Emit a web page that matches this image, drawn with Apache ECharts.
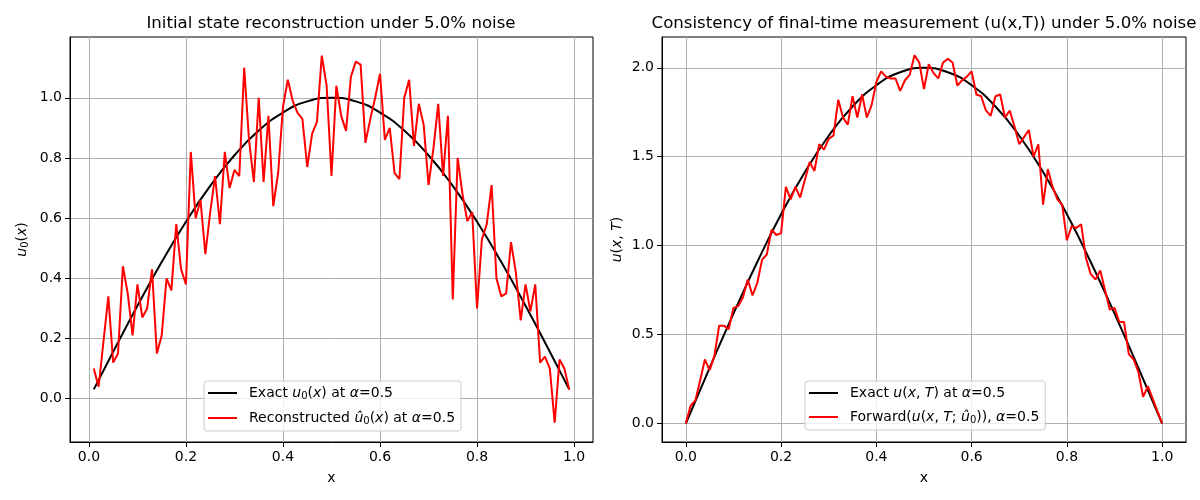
<!DOCTYPE html>
<html>
<head>
<meta charset="utf-8">
<script src="https://cdn.jsdelivr.net/npm/echarts@6/dist/echarts.min.js"></script>
<style>
  html, body { margin: 0; padding: 0; background: #fff; }
  #chart { width: 1200px; height: 500px; }
</style>
</head>
<body>
<div id="chart"></div>
<script>
// tick labels
const xTicks = [0, 0.2, 0.4, 0.6, 0.8, 1.0];
const leftYTicks = [0, 0.2, 0.4, 0.6, 0.8, 1.0];
const rightYTicks = [0, 0.5, 1.0, 1.5, 2.0];

// left panel: exact u0(x) (read at a few x), reconstruction at x = 0.01..0.99
const exactU0X = [0.01, 0.05, 0.10, 0.15, 0.20, 0.25, 0.30, 0.35, 0.40, 0.45, 0.50,
  0.55, 0.60, 0.65, 0.70, 0.75, 0.80, 0.85, 0.90, 0.95, 0.99];
const exactU0 = [0.031, 0.156, 0.309, 0.454, 0.588, 0.707, 0.809, 0.891, 0.951, 0.988, 1.000,
  0.988, 0.951, 0.891, 0.809, 0.707, 0.588, 0.454, 0.309, 0.156, 0.031];
const reconU0 = [
  0.10, 0.04, 0.19, 0.34, 0.12, 0.15, 0.44, 0.35, 0.21, 0.38,
  0.27, 0.30, 0.43, 0.15, 0.21, 0.40, 0.36, 0.58, 0.43, 0.38,
  0.82, 0.60, 0.66, 0.48, 0.62, 0.74, 0.58, 0.82, 0.70, 0.76,
  0.74, 1.10, 0.86, 0.72, 1.00, 0.72, 0.94, 0.64, 0.75, 0.97,
  1.06, 0.99, 0.95, 0.93, 0.77, 0.88, 0.92, 1.14, 1.04, 0.74,
  1.04, 0.94, 0.89, 1.07, 1.12, 1.11, 0.85, 0.93, 1.00, 1.08,
  0.86, 0.90, 0.75, 0.73, 1.00, 1.06, 0.84, 0.98, 0.91, 0.71,
  0.83, 0.98, 0.74, 0.94, 0.33, 0.80, 0.68, 0.59, 0.62, 0.30,
  0.53, 0.58, 0.71, 0.40, 0.34, 0.35, 0.52, 0.42, 0.26, 0.38,
  0.29, 0.38, 0.12, 0.14, 0.10, -0.08, 0.13, 0.10, 0.03
];

// right panel: exact u(x,T), forward solution at x = 0.00..1.00
const exactUTX = [0.00, 0.05, 0.10, 0.15, 0.20, 0.25, 0.30, 0.35, 0.40, 0.45, 0.50,
  0.55, 0.60, 0.65, 0.70, 0.75, 0.80, 0.85, 0.90, 0.95, 1.00];
const exactUT = [0, 0.313, 0.618, 0.908, 1.176, 1.414, 1.618, 1.782, 1.902, 1.975, 2.000,
  1.975, 1.902, 1.782, 1.618, 1.414, 1.176, 0.908, 0.618, 0.313, 0];
const forwardUT = [
  0.00, 0.10, 0.13, 0.24, 0.36, 0.30, 0.38, 0.55, 0.55, 0.53,
  0.65, 0.66, 0.71, 0.81, 0.72, 0.79, 0.92, 0.95, 1.09, 1.06,
  1.07, 1.33, 1.26, 1.33, 1.27, 1.37, 1.47, 1.42, 1.57, 1.54,
  1.60, 1.62, 1.82, 1.72, 1.68, 1.84, 1.72, 1.85, 1.72, 1.79,
  1.92, 1.98, 1.95, 1.94, 1.94, 1.87, 1.93, 1.96, 2.07, 2.03,
  1.88, 2.02, 1.97, 1.94, 2.03, 2.05, 2.03, 1.90, 1.93, 1.95,
  1.98, 1.85, 1.84, 1.76, 1.73, 1.84, 1.85, 1.72, 1.76, 1.67,
  1.57, 1.61, 1.65, 1.50, 1.57, 1.23, 1.43, 1.33, 1.26, 1.23,
  1.03, 1.11, 1.10, 1.12, 0.93, 0.84, 0.81, 0.86, 0.75, 0.64,
  0.65, 0.57, 0.57, 0.39, 0.36, 0.29, 0.15, 0.21, 0.14, 0.07,
  0.00
];

const FONT = 'DejaVu Sans';
const pairs = (xs, ys) => ys.map((y, i) => [xs[i], y]);
const reconX = reconU0.map((_, i) => +((i + 1) / 100).toFixed(2));
const forwardX = forwardUT.map((_, i) => +(i / 100).toFixed(2));

const rich = {
  i: { fontFamily: FONT, fontSize: 14, fontStyle: 'italic', color: '#000' },
  s: { fontFamily: FONT, fontSize: 10, color: '#000', padding: [6, 0, 0, 0] },
  n: { fontFamily: FONT, fontSize: 14, color: '#000' }
};

const legendText = {
  exactU0: 'Exact {i|u}{s|0}({i|x}) at {i|α}=0.5',
  recon: 'Reconstructed {i|û}{s|0}({i|x}) at {i|α}=0.5',
  exactUT: 'Exact {i|u}({i|x}, {i|T}) at {i|α}=0.5',
  forward: 'Forward({i|u}({i|x}, {i|T}; {i|û}{s|0})), {i|α}=0.5'
};

function xAxis(gridIndex, min, max) {
  return {
    type: 'value', gridIndex, min, max,
    name: 'x', nameLocation: 'middle', nameGap: 29,
    nameTextStyle: { fontFamily: FONT, fontSize: 14, color: '#000' },
    axisLine: { onZero: false, lineStyle: { color: '#000', width: 1 } },
    axisTick: { show: true, length: 5, customValues: xTicks, lineStyle: { color: '#000' } },
    axisLabel: { customValues: xTicks, margin: 8, fontFamily: FONT, fontSize: 14, color: '#000',
      formatter: v => v.toFixed(1) },
    splitLine: { show: true, lineStyle: { color: '#b0b0b0', width: 1 } }
  };
}

function yAxis(gridIndex, min, max, ticks, name, gap) {
  return {
    type: 'value', gridIndex, min, max,
    name, nameLocation: 'middle', nameGap: gap, nameRotate: 90,
    nameTextStyle: { fontFamily: FONT, fontSize: 14, color: '#000', rich },
    axisLine: { show: true, onZero: false, lineStyle: { color: '#000', width: 1 } },
    axisTick: { show: true, length: 5, customValues: ticks, lineStyle: { color: '#000' } },
    axisLabel: { customValues: ticks, margin: 8, fontFamily: FONT, fontSize: 14, color: '#000',
      formatter: v => v.toFixed(1) },
    splitLine: { show: true, lineStyle: { color: '#b0b0b0', width: 1 } }
  };
}

function legend(left, top, names) {
  return {
    orient: 'vertical', left, top,
    data: names,
    icon: 'rect', itemWidth: 29, itemHeight: 2, itemGap: 10,
    padding: [5, 6, 5, 4],
    borderColor: '#cccccc', borderWidth: 1, borderRadius: 3,
    backgroundColor: 'rgba(255,255,255,0.8)',
    formatter: n => legendText[n],
    textStyle: { fontFamily: FONT, fontSize: 14, color: '#000', padding: [0, 0, 0, 7], rich }
  };
}

function line(name, xi, yi, data, color, smooth) {
  return {
    name, type: 'line', xAxisIndex: xi, yAxisIndex: yi, data, smooth,
    showSymbol: false, symbol: 'none',
    lineStyle: { color, width: 2 }, itemStyle: { color }
  };
}

const titleStyle = { fontFamily: FONT, fontSize: 16.6, fontWeight: 'normal', color: '#000' };

const chart = echarts.init(document.getElementById('chart'));
chart.setOption({
  animation: false,
  backgroundColor: '#fff',
  title: [
    { text: 'Initial state reconstruction under 5.0% noise', left: 331, top: 15, textAlign: 'center',
      padding: 0, textStyle: titleStyle },
    { text: 'Consistency of final-time measurement (u(x,T)) under 5.0% noise', left: 924, top: 15,
      textAlign: 'center', padding: 0, textStyle: titleStyle }
  ],
  grid: [
    { left: 70, top: 37, width: 523, height: 405, show: true, borderColor: '#000', borderWidth: 1,
      backgroundColor: 'transparent' },
    { left: 662, top: 37, width: 524, height: 405, show: true, borderColor: '#000', borderWidth: 1,
      backgroundColor: 'transparent' }
  ],
  xAxis: [xAxis(0, -0.039, 1.039), xAxis(1, -0.05, 1.05)],
  yAxis: [
    yAxis(0, -0.144, 1.202, leftYTicks, '{i|u}{s|0}({i|x})', 40),
    yAxis(1, -0.104, 2.173, rightYTicks, '{i|u}({i|x}, {i|T})', 38)
  ],
  legend: [
    legend(204, 381, ['exactU0', 'recon']),
    legend(805, 381, ['exactUT', 'forward'])
  ],
  series: [
    line('exactU0', 0, 0, pairs(exactU0X, exactU0), '#000000', true),
    line('recon', 0, 0, pairs(reconX, reconU0), '#ff0000', false),
    line('exactUT', 1, 1, pairs(exactUTX, exactUT), '#000000', true),
    line('forward', 1, 1, pairs(forwardX, forwardUT), '#ff0000', false)
  ]
});
</script>
</body>
</html>
